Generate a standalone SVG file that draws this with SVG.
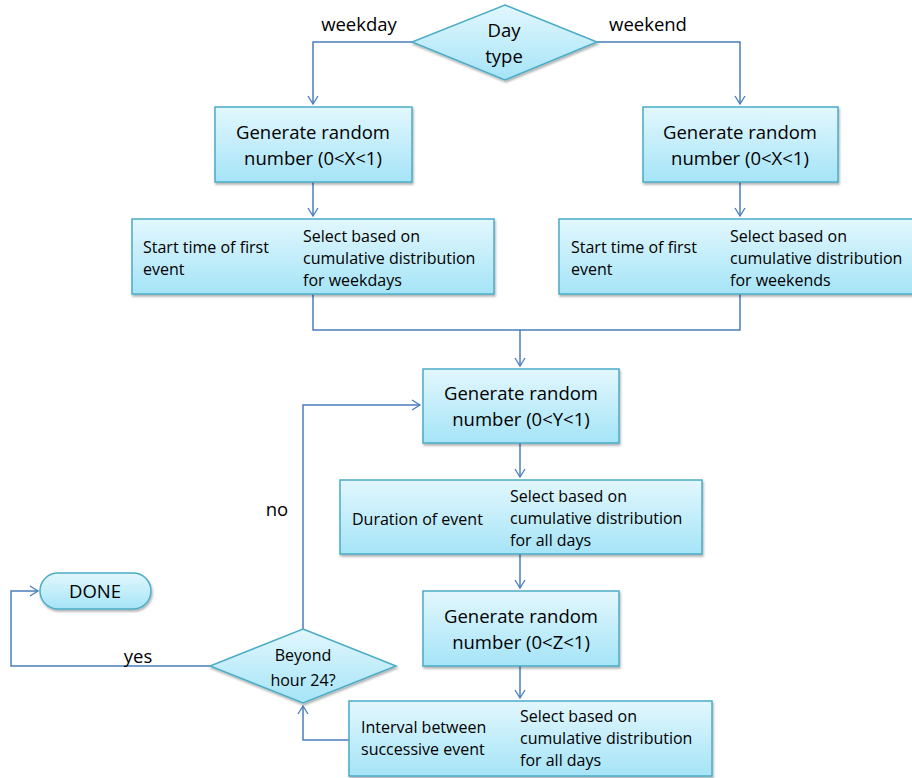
<svg xmlns="http://www.w3.org/2000/svg" width="912" height="778" viewBox="0 0 912 778">
<defs>
<linearGradient id="g" x1="0" y1="0" x2="0" y2="1">
<stop offset="0" stop-color="#e2f7fd"/>
<stop offset="1" stop-color="#a5e4f7"/>
</linearGradient>
<filter id="sh" x="-5%" y="-10%" width="110%" height="130%">
<feDropShadow dx="1" dy="2" stdDeviation="1.2" flood-color="#000" flood-opacity="0.3"/>
</filter>
<marker id="arr" markerWidth="12" markerHeight="12" refX="9" refY="6" orient="auto" markerUnits="userSpaceOnUse">
<path d="M1,1 L9,6 L1,11" fill="none" stroke="#4a7ebb" stroke-width="1.3"/>
</marker>
<style>
.n{fill:url(#g);stroke:#4bacc6;stroke-width:1.5;filter:url(#sh)}
.c{fill:none;stroke:#4a7ebb;stroke-width:1.5}
.t{font-family:"Open Sans","Liberation Sans",sans-serif;font-size:18.5px;fill:#000}
.s{font-family:"Open Sans","Liberation Sans",sans-serif;font-size:16px;fill:#000}
.m{text-anchor:middle}
</style>
</defs>
<rect width="912" height="778" fill="#fff"/>
<g id="connectors">
<path class="c" d="M412,42 H313 V104" marker-end="url(#arr)"/>
<path class="c" d="M597,42 H740 V104" marker-end="url(#arr)"/>
<path class="c" d="M313,182 V216" marker-end="url(#arr)"/>
<path class="c" d="M740,182 V216" marker-end="url(#arr)"/>
<path class="c" d="M313,294 V330 H740 V294"/>
<path class="c" d="M520,330 V366" marker-end="url(#arr)"/>
<path class="c" d="M520,443 V477" marker-end="url(#arr)"/>
<path class="c" d="M520,554 V588" marker-end="url(#arr)"/>
<path class="c" d="M520,666 V698" marker-end="url(#arr)"/>
<path class="c" d="M349,740 H303 V706" marker-end="url(#arr)"/>
<path class="c" d="M303,629 V405 H420" marker-end="url(#arr)"/>
<path class="c" d="M210,666 H11 V591 H38" marker-end="url(#arr)"/>
<text class="t" x="359" y="31" text-anchor="middle">weekday</text>
<text class="t" x="648" y="31" text-anchor="middle">weekend</text>
<text class="t" x="277" y="516" text-anchor="middle">no</text>
<text class="t" x="138" y="663" text-anchor="middle">yes</text>
</g>
<g id="daytype">
<polygon class="n" points="505,5 597,42 505,80 412,42"/>
<text class="t m" x="504" y="37">Day</text>
<text class="t m" x="504" y="63">type</text>
</g>
<g id="genX1">
<rect class="n" x="215" y="107" width="197" height="75"/>
<text class="t m" x="313" y="139">Generate random</text>
<text class="t m" x="313" y="165">number (0&lt;X&lt;1)</text>
</g>
<g id="genX2">
<rect class="n" x="643" y="107" width="195" height="75"/>
<text class="t m" x="740" y="139">Generate random</text>
<text class="t m" x="740" y="165">number (0&lt;X&lt;1)</text>
</g>
<g id="startWeekday">
<rect class="n" x="132" y="219" width="362" height="75"/>
<text class="s" x="143" y="253">Start time of first</text>
<text class="s" x="143" y="275">event</text>
<text class="s" x="303" y="242">Select based on</text>
<text class="s" x="303" y="264">cumulative distribution</text>
<text class="s" x="303" y="286">for weekdays</text>
</g>
<g id="startWeekend">
<rect class="n" x="559" y="219" width="360" height="75"/>
<text class="s" x="571" y="253">Start time of first</text>
<text class="s" x="571" y="275">event</text>
<text class="s" x="730" y="242">Select based on</text>
<text class="s" x="730" y="264">cumulative distribution</text>
<text class="s" x="730" y="286">for weekends</text>
</g>
<g id="genY">
<rect class="n" x="423" y="369" width="196" height="74"/>
<text class="t m" x="521" y="400">Generate random</text>
<text class="t m" x="521" y="426">number (0&lt;Y&lt;1)</text>
</g>
<g id="duration">
<rect class="n" x="340" y="480" width="362" height="74"/>
<text class="s" x="352" y="525">Duration of event</text>
<text class="s" x="510" y="502">Select based on</text>
<text class="s" x="510" y="524">cumulative distribution</text>
<text class="s" x="510" y="546">for all days</text>
</g>
<g id="genZ">
<rect class="n" x="423" y="591" width="196" height="75"/>
<text class="t m" x="521" y="623">Generate random</text>
<text class="t m" x="521" y="649">number (0&lt;Z&lt;1)</text>
</g>
<g id="interval">
<rect class="n" x="349" y="701" width="363" height="75"/>
<text class="s" x="361" y="733">Interval between</text>
<text class="s" x="361" y="755">successive event</text>
<text class="s" x="520" y="722">Select based on</text>
<text class="s" x="520" y="744">cumulative distribution</text>
<text class="s" x="520" y="766">for all days</text>
</g>
<g id="beyond">
<polygon class="n" points="303,629 396,666 303,703 210,666"/>
<text class="s m" x="303" y="661">Beyond</text>
<text class="s m" x="303" y="686">hour 24?</text>
</g>
<g id="done">
<rect class="n" x="40" y="573" width="111" height="36" rx="18"/>
<text class="t m" x="95" y="598">DONE</text>
</g>
</svg>
